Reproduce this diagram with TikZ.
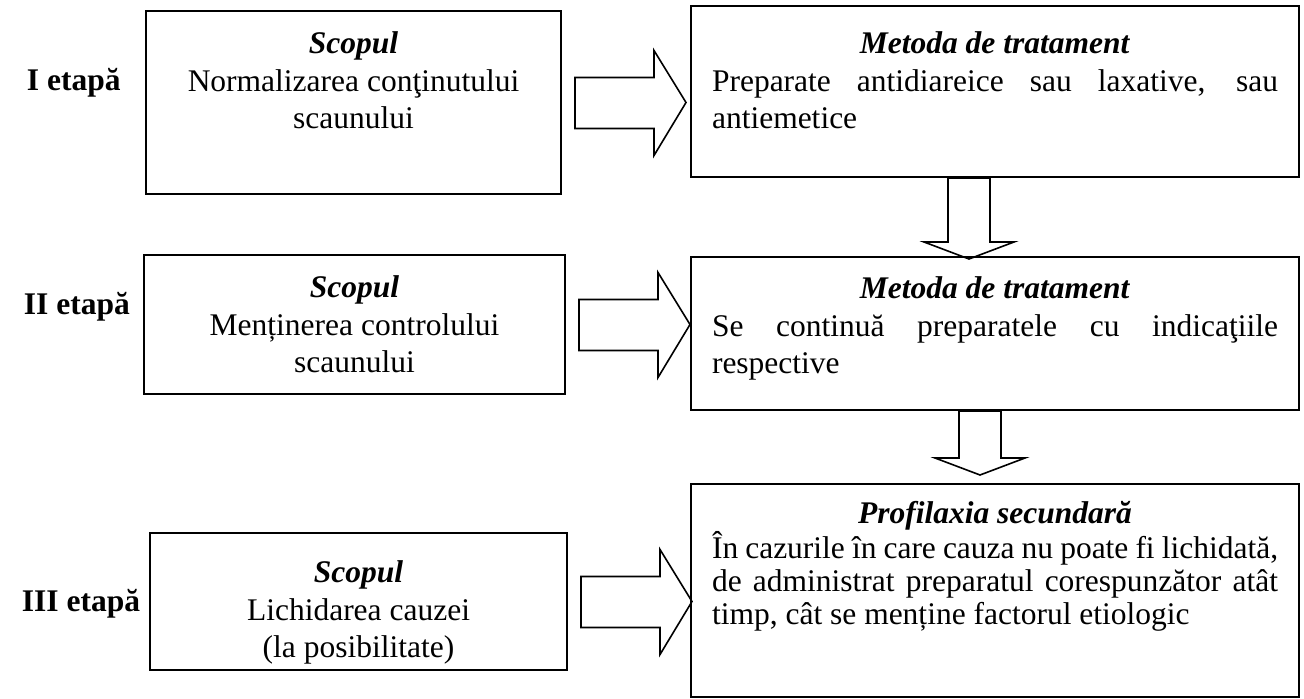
\documentclass[tikz,border=0pt]{standalone}
\usepackage{fontspec}
\setmainfont{Liberation Serif}
\usetikzlibrary{calc}

\tikzset{
  stage/.style={anchor=base west, font=\bfseries},
  box/.style={draw, line width=1pt, inner sep=0pt, anchor=north west},
  rbox/.style={box, inner xsep=10.5pt},
  blockarrow/.style={draw, line width=0.8pt, line join=miter}
}

% block arrows (right and down)
\newcommand{\hblock}[1]{\draw[blockarrow] ($(#1.east)+(13,-25)$) -- ++(79,0) -- ++(0,-27)
  -- ++(32,52) -- ++(-32,53) -- ++(0,-27) -- ++(-79,0) -- cycle;}
\newcommand{\vblock}[3]{\draw[blockarrow] ($(#1.south)+(#2-21,0)$) -- ++(0,#3) -- ++(-24,0)
  -- ++(45,17) -- ++(45,-17) -- ++(-24,0) -- ++(0,-#3) -- cycle;}

\begin{document}
\fontsize{15.75pt}{18.75pt}\selectfont
\begin{tikzpicture}[x=0.5pt, y=-0.5pt]
	\useasboundingbox (0,0) rectangle (1304,699);
	% stages
	\node[stage] (e1) at (16,91) {I etapă};
	\node[stage] (e2) at (13,315) {II etapă};
	\node[stage] (e3) at (11,611) {III etapă};
	% aims
	\node[box] (l1) at (145,10) {\parbox[c][91.5pt][t]{207.5pt}{\centering\vspace*{10.5pt}%
		\textbf{\textit{Scopul}}\\ Normalizarea conţinutului\\ scaunului}};
	\node[box] (l2) at (143,254) {\parbox[c][69.5pt][t]{210.5pt}{\centering\vspace*{10.5pt}%
		\textbf{\textit{Scopul}}\\ Menținerea controlului\\ scaunului}};
	\node[box] (l3) at (149,532) {\parbox[c][68.5pt][t]{208.5pt}{\centering\vspace*{14pt}%
		\textbf{\textit{Scopul}}\\ Lichidarea cauzei\\ (la posibilitate)}};
	% treatment
	\node[rbox] (r1) at (690,5) {\parbox[c][85.5pt][t]{283pt}{\vspace*{13pt}%
		\centerline{\textbf{\textit{Metoda de tratament}}}%
		Preparate antidiareice sau laxative, sau\linebreak antiemetice}};
	\node[rbox] (r2) at (690,256) {\parbox[c][76.5pt][t]{283pt}{\vspace*{10pt}%
		\centerline{\textbf{\textit{Metoda de tratament}}}%
		Se continuă preparatele cu indicaţiile\linebreak respective}};
	\node[rbox] (r3) at (690,483) {\parbox[c][106.5pt][t]{283pt}{\fontsize{15.75pt}{16.5pt}\selectfont
		\vspace*{8.5pt}%
		\centerline{\textbf{\textit{Profilaxia secundară}}}%
		În cazurile în care cauza nu poate fi lichidată,\linebreak de administrat preparatul
		corespunzător atât\linebreak timp, cât se menține factorul etiologic}};
	% arrows
	\hblock{l1}
	\hblock{l2}
	\hblock{l3}
	\vblock{r1}{-26}{64}
	\vblock{r2}{-15}{47}
\end{tikzpicture}
\end{document}
